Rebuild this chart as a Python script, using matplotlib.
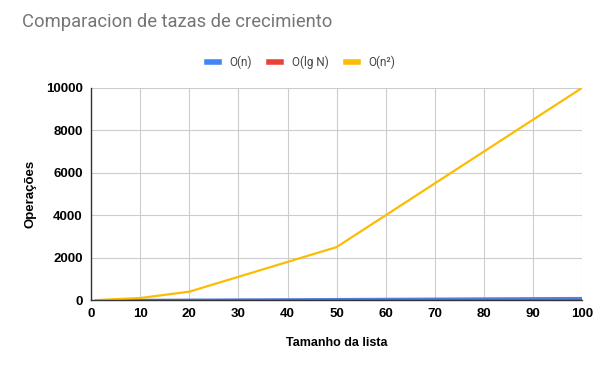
import matplotlib
matplotlib.use("Agg")
import matplotlib.pyplot as plt
from matplotlib.lines import Line2D

# data
tamanho = [1, 10, 20, 50, 100]
o_n = [1, 10, 20, 50, 100]
o_lg = [0, 3.32, 4.32, 5.64, 6.64]
o_n2 = [1, 100, 400, 2500, 10000]

series = [
    ("O(n)", o_n, "#4285f4"),
    ("O(lg N)", o_lg, "#ea4335"),
    ("O(n²)", o_n2, "#fbbc04"),
]

x_ticks = list(range(0, 101, 10))
y_ticks = list(range(0, 10001, 2000))

fig = plt.figure(figsize=(6, 3.71), dpi=100)
ax = fig.add_axes([0.152, 0.191, 0.818, 0.572])

for label, values, color in series:
    ax.plot(tamanho, values, color=color, linewidth=1.6, label=label, solid_capstyle="round")

ax.set_xlim(0, 100)
ax.set_ylim(0, 10000)
ax.set_xticks(x_ticks)
ax.set_yticks(y_ticks)
ax.grid(True, color="#cccccc", linewidth=0.8)
ax.set_axisbelow(True)
for side in ("top", "right"):
    ax.spines[side].set_visible(False)
for side in ("left", "bottom"):
    ax.spines[side].set_color("#333333")
    ax.spines[side].set_linewidth(1.0)
ax.tick_params(length=0, pad=6)
for lbl in ax.get_xticklabels() + ax.get_yticklabels():
    lbl.set_fontfamily("Liberation Sans")
    lbl.set_fontweight("bold")
    lbl.set_fontsize(9.5)
    lbl.set_color("#000000")

ax.set_xlabel("Tamanho da lista", fontfamily="Liberation Sans", fontweight="bold",
              fontsize=9, labelpad=12)
ax.set_ylabel("Operações", fontfamily="Liberation Sans", fontweight="bold",
              fontsize=9.5, labelpad=7)

fig.text(0.037, 0.942, "Comparacion de tazas de crecimiento", fontfamily="Roboto",
         fontsize=13.2, color="#757575", va="center", ha="left")

handles = [Line2D([0], [0], color=c, linewidth=4) for _, _, c in series]
fig.legend(handles, [s[0] for s in series], loc="center", bbox_to_anchor=(0.502, 0.833),
           ncol=3, frameon=False, handlelength=1.0, columnspacing=1.5, handletextpad=0.9,
           prop={"family": "Roboto", "size": 8.5}, labelcolor="#444444")

fig.savefig("out.png", dpi=100)
